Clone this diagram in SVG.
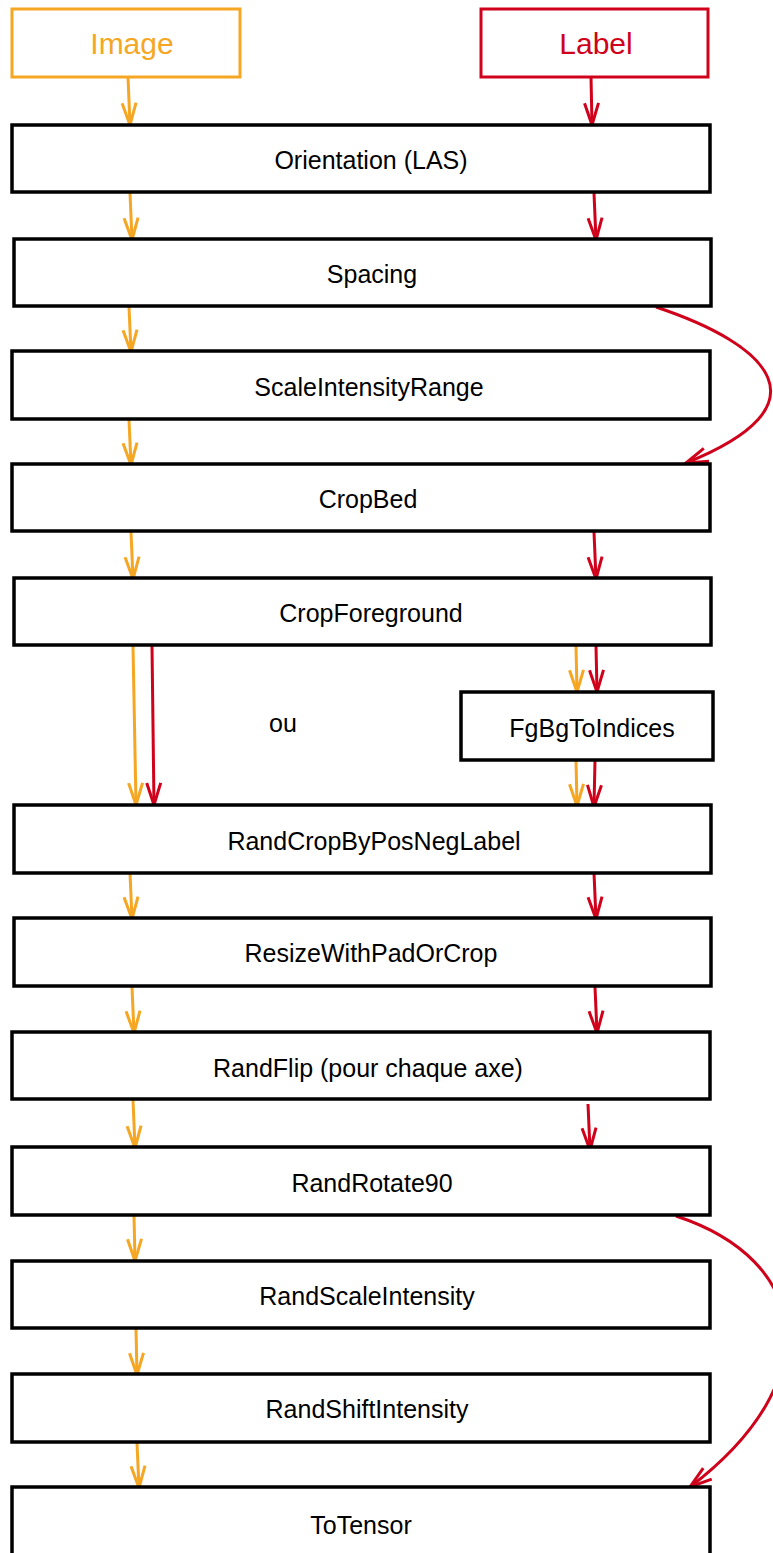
<svg xmlns="http://www.w3.org/2000/svg" width="773" height="1553" viewBox="0 0 773 1553">
<style>
.box{fill:#fff;stroke:#000;stroke-width:3.5}
.t{font-family:"Liberation Sans",Arial,sans-serif;font-size:25px;fill:#000;text-anchor:middle}
.big{font-size:30px}
.o{fill:none;stroke:#F5A623;stroke-width:3;marker-end:url(#ao)}
.r{fill:none;stroke:#D0021B;stroke-width:3;marker-end:url(#ar)}
</style>
<defs>
<marker id="ao" markerUnits="userSpaceOnUse" markerWidth="30" markerHeight="30" refX="0" refY="0" orient="auto" overflow="visible"><path d="M-22,-7 L0,0 L-22,7" fill="none" stroke="#F5A623" stroke-width="3"/></marker>
<marker id="ar" markerUnits="userSpaceOnUse" markerWidth="30" markerHeight="30" refX="0" refY="0" orient="auto" overflow="visible"><path d="M-22,-7 L0,0 L-22,7" fill="none" stroke="#D0021B" stroke-width="3"/></marker>
</defs>
<rect width="773" height="1553" fill="#fff"/>
<g id="connectors">
<path class="o" d="M128,77 L130,125"/>
<path class="r" d="M591,77 L592,125"/>
<path class="o" d="M130,193 L132,240"/>
<path class="r" d="M594,193 L596,240"/>
<path class="o" d="M129,307 L131,352"/>
<path class="o" d="M129,420 L131,465"/>
<path class="r" d="M656,307 C770,345 830,405 686,463"/>
<path class="o" d="M131,532 L133,579"/>
<path class="r" d="M594,532 L596,579"/>
<path class="o" d="M133,646 L136,805"/>
<path class="r" d="M152,646 L154,805"/>
<path class="o" d="M576,646 L577,692"/>
<path class="r" d="M596,646 L597,692"/>
<path class="o" d="M576,760 L577,806"/>
<path class="r" d="M595,760 L594,807"/>
<path class="o" d="M130,873 L132,919"/>
<path class="r" d="M594,873 L596,919"/>
<path class="o" d="M132,987 L134,1033"/>
<path class="r" d="M595,987 L597,1033"/>
<path class="o" d="M133,1100 L135,1148"/>
<path class="r" d="M588,1104 L590,1150"/>
<path class="o" d="M134,1216 L135,1261"/>
<path class="o" d="M136,1329 L137,1375"/>
<path class="o" d="M137,1443 L139,1488"/>
<path class="r" d="M676,1216 C810,1260 830,1380 690,1487"/>
</g>
<g id="image"><rect x="12" y="9" width="228" height="68" fill="#fff" stroke="#F5A623" stroke-width="3"/><text class="t big" x="132" y="54" style="fill:#F5A623">Image</text></g>
<g id="label"><rect x="481" y="9" width="227" height="68" fill="#fff" stroke="#D0021B" stroke-width="3"/><text class="t big" x="596" y="54" style="fill:#D0021B">Label</text></g>
<g id="orientation"><rect class="box" x="12" y="125" width="698" height="67"/><text class="t" x="371" y="169">Orientation (LAS)</text></g>
<g id="spacing"><rect class="box" x="14" y="239" width="697" height="67"/><text class="t" x="372" y="283">Spacing</text></g>
<g id="scaleintensityrange"><rect class="box" x="12" y="351" width="698" height="68"/><text class="t" x="369" y="396">ScaleIntensityRange</text></g>
<g id="cropbed"><rect class="box" x="12" y="464" width="698" height="67"/><text class="t" x="368" y="508">CropBed</text></g>
<g id="cropforeground"><rect class="box" x="14" y="578" width="697" height="67"/><text class="t" x="371" y="622">CropForeground</text></g>
<g id="ou"><text class="t" x="283" y="732">ou</text></g>
<g id="fgbgtoindices"><rect class="box" x="461" y="692" width="252" height="68"/><text class="t" x="592" y="737">FgBgToIndices</text></g>
<g id="randcropbyposneglabel"><rect class="box" x="14" y="805" width="697" height="68"/><text class="t" x="374" y="850">RandCropByPosNegLabel</text></g>
<g id="resizewithpadorcrop"><rect class="box" x="14" y="918" width="697" height="68"/><text class="t" x="371" y="962">ResizeWithPadOrCrop</text></g>
<g id="randflip"><rect class="box" x="12" y="1032" width="698" height="67"/><text class="t" x="368" y="1077">RandFlip (pour chaque axe)</text></g>
<g id="randrotate90"><rect class="box" x="12" y="1147" width="698" height="68"/><text class="t" x="372" y="1192">RandRotate90</text></g>
<g id="randscaleintensity"><rect class="box" x="12" y="1261" width="698" height="67"/><text class="t" x="367" y="1305">RandScaleIntensity</text></g>
<g id="randshiftintensity"><rect class="box" x="12" y="1374" width="698" height="68"/><text class="t" x="367" y="1418">RandShiftIntensity</text></g>
<g id="totensor"><rect class="box" x="12" y="1487" width="698" height="80"/><text class="t" x="361" y="1534">ToTensor</text></g>
</svg>
